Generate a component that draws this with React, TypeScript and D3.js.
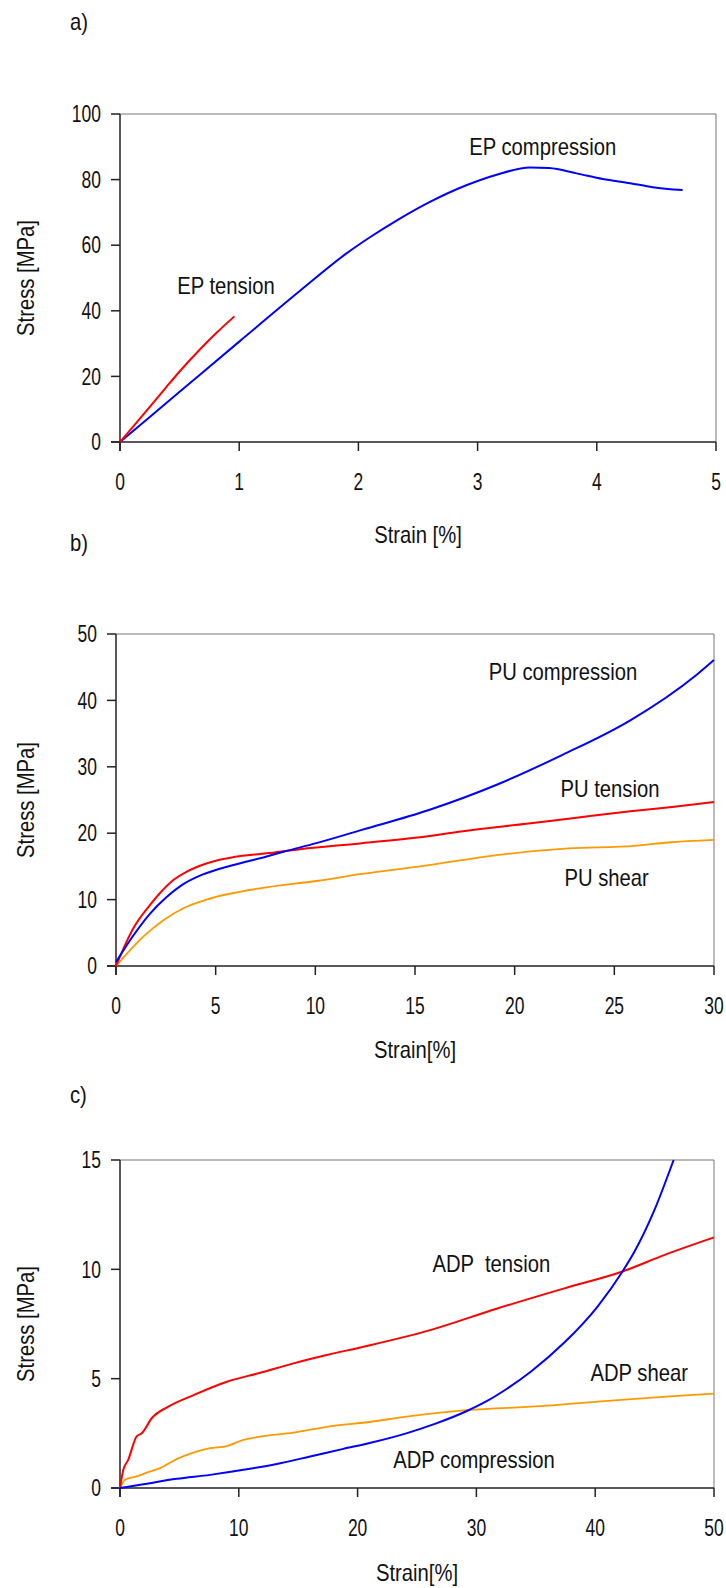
import React from "react";
import * as d3 from "d3";

// ---------- DATA ----------
// Panel a) EP
const epTension: [number, number][] = [
  [0, 0], [0.11, 4.7], [0.25, 10.7], [0.39, 16.8], [0.5, 21.5], [0.67, 28.2],
  [0.81, 33.3], [0.96, 38.3],
];
const epCompression: [number, number][] = [
  [0, 0], [0.5, 15.3], [1, 30.6], [1.5, 45.8], [1.9, 57.5], [2.1, 62.5],
  [2.32, 67.5], [2.6, 73.2], [2.9, 78.2], [3.16, 81.5], [3.44, 83.7],
  [3.6, 83.5], [3.83, 81.9], [4.05, 80.2], [4.28, 78.9], [4.47, 77.7], [4.72, 76.8],
];
// Panel b) PU
const puTension: [number, number][] = [
  [0, 0], [0.87, 5.67], [1.71, 9.2], [2.21, 11.0], [2.88, 12.95], [3.55, 14.2],
  [4.21, 15.1], [5.05, 15.9], [5.89, 16.4], [7.56, 16.97], [9.23, 17.6],
  [12.33, 18.5], [15, 19.3], [17.4, 20.3], [20.8, 21.5], [23, 22.3],
  [25.8, 23.3], [28, 24], [30, 24.7],
];
const puCompression: [number, number][] = [
  [0, 0.6], [0.87, 4.6], [1.71, 7.9], [2.54, 10.4], [3.21, 12.0], [4.21, 13.6],
  [5.05, 14.5], [5.89, 15.2], [7.56, 16.5], [8.4, 17.2], [10.05, 18.5],
  [12.33, 20.5], [15.7, 23.5], [19.1, 27.3], [22.4, 31.8], [25.8, 37.0],
  [29.1, 43.8], [30, 46.1],
];
const puShear: [number, number][] = [
  [0, 0], [1.37, 4.42], [3.38, 8.7], [4.55, 10], [7.56, 11.85], [10.05, 12.8],
  [12.33, 13.86], [15.7, 15.2], [19.1, 16.7], [22.7, 17.7], [26, 18.1],
  [27.7, 18.6], [30, 19],
];
// Panel c) ADP
const adpTension: [number, number][] = [
  [0, 0], [0.28, 0.83], [0.7, 1.3], [1.4, 2.36], [1.83, 2.5], [2.67, 3.19],
  [4.07, 3.72], [6.2, 4.25], [9, 4.86], [11.8, 5.27], [14.6, 5.7], [17.4, 6.08],
  [20.5, 6.46], [26.1, 7.22], [31.7, 8.2], [37.4, 9.13], [42.3, 9.9],
  [45.8, 10.65], [50, 11.46],
];
const adpCompression: [number, number][] = [
  [0, 0], [1.96, 0.17], [4.77, 0.42], [7.58, 0.6], [10.4, 0.83], [13.2, 1.1],
  [16, 1.44], [18.8, 1.79], [21.1, 2.07], [24.1, 2.5], [26.5, 2.93], [29.2, 3.52],
  [30.9, 3.98], [32.6, 4.55], [34.6, 5.33], [37.4, 6.65], [40.2, 8.3],
  [42.3, 9.9], [43.3, 10.8], [44.9, 12.6], [46.6, 15],
];
const adpShear: [number, number][] = [
  [0, 0], [0.14, 0.15], [0.42, 0.38], [1.4, 0.53], [2.5, 0.75], [3.37, 0.91],
  [4.77, 1.32], [6.17, 1.62], [7.58, 1.82], [8.98, 1.92], [10.38, 2.2],
  [11.8, 2.35], [14.6, 2.53], [17.4, 2.8], [21.1, 3.03], [24.1, 3.26],
  [29.2, 3.56], [35.4, 3.74], [41.6, 4.01], [46.6, 4.2], [50, 4.32],
];

const xTicksA = [0, 1, 2, 3, 4, 5];
const yTicksA = [0, 20, 40, 60, 80, 100];
const xTicksB = [0, 5, 10, 15, 20, 25, 30];
const yTicksB = [0, 10, 20, 30, 40, 50];
const xTicksC = [0, 10, 20, 30, 40, 50];
const yTicksC = [0, 5, 10, 15];

const BLUE = "#0000FF";
const RED = "#FF0000";
const ORANGE = "#FF9900";
const FONT = "'Liberation Sans', Arial, sans-serif";
const FS = 23;

type Series = { data: [number, number][]; color: string; width: number };
type Label = { text: string; x: number; y: number };

// condensed text: regular font squeezed horizontally
function T(props: {
  x: number; y: number; sx?: number; anchor?: string; rotate?: number;
  dy?: string; children: React.ReactNode;
}) {
  const { x, y, sx = 0.88, anchor = "start", rotate = 0, dy } = props;
  return (
    <text
      transform={`translate(${x},${y}) rotate(${rotate}) scale(${sx},1)`}
      textAnchor={anchor}
      dy={dy}
      fontSize={FS}
      style={{ whiteSpace: "pre" }}
    >
      {props.children}
    </text>
  );
}

type PanelProps = {
  letter: string;
  letterY: number;
  x0: number; x1: number; y0: number; y1: number;
  xDomain: [number, number]; yDomain: [number, number];
  xTicks: number[]; yTicks: number[];
  xTitle: string; xTitleY: number;
  series: Series[];
  labels: Label[];
};

function Panel(p: PanelProps) {
  const x = d3.scaleLinear().domain(p.xDomain).range([p.x0, p.x1]);
  const y = d3.scaleLinear().domain(p.yDomain).range([p.y1, p.y0]);
  const line = d3
    .line<[number, number]>()
    .x((d) => x(d[0]))
    .y((d) => y(d[1]))
    .curve(d3.curveMonotoneX);
  return (
    <g fontFamily={FONT} fill="#111">
      <T x={70} y={p.letterY}>{p.letter}</T>
      <line x1={p.x0} x2={p.x1} y1={p.y0} y2={p.y0} stroke="#777" strokeWidth={1} />
      <line x1={p.x1} x2={p.x1} y1={p.y0} y2={p.y1} stroke="#777" strokeWidth={1} />
      <line x1={p.x0 - 9} x2={p.x1} y1={p.y1} y2={p.y1} stroke="#222" strokeWidth={1.5} />
      <line x1={p.x0} x2={p.x0} y1={p.y0} y2={p.y1 + 9} stroke="#222" strokeWidth={1.5} />
      {p.yTicks.map((t) => (
        <g key={"y" + t}>
          <line x1={p.x0 - 9} x2={p.x0} y1={y(t)} y2={y(t)} stroke="#222" strokeWidth={1.5} />
          <T x={p.x0 - 19} y={y(t)} dy="0.36em" anchor="end" sx={0.76}>{t}</T>
        </g>
      ))}
      {p.xTicks.map((t) => (
        <g key={"x" + t}>
          <line x1={x(t)} x2={x(t)} y1={p.y1} y2={p.y1 + 9} stroke="#222" strokeWidth={1.5} />
          <T x={x(t)} y={p.y1 + 40} dy="0.36em" anchor="middle" sx={0.76}>{t}</T>
        </g>
      ))}
      <T x={26} y={(p.y0 + p.y1) / 2} rotate={-90} anchor="middle" dy="0.36em">
        Stress [MPa]
      </T>
      <T x={(p.x0 + p.x1) / 2} y={p.xTitleY} anchor="middle" dy="0.36em">
        {p.xTitle}
      </T>
      {p.series.map((s, i) => (
        <path key={i} d={line(s.data) || ""} fill="none" stroke={s.color} strokeWidth={s.width} />
      ))}
      {p.labels.map((l, i) => (
        <T key={i} x={x(l.x)} y={y(l.y)}>{l.text}</T>
      ))}
    </g>
  );
}

export default function App() {
  return (
    <svg
      width={726}
      height={1588}
      style={{ position: "absolute", left: 0, top: 0, background: "#fff" }}
    >
      <rect width={726} height={1588} fill="#fff" />
      <Panel
        letter="a)"
        letterY={30}
        x0={120} x1={716} y0={114} y1={442}
        xDomain={[0, 5]} yDomain={[0, 100]}
        xTicks={xTicksA} yTicks={yTicksA}
        xTitle="Strain [%]" xTitleY={535}
        series={[
          { data: epCompression, color: BLUE, width: 2 },
          { data: epTension, color: RED, width: 2 },
        ]}
        labels={[
          { text: "EP compression", x: 2.93, y: 87.5 },
          { text: "EP tension", x: 0.48, y: 45 },
        ]}
      />
      <Panel
        letter="b)"
        letterY={551}
        x0={116} x1={714} y0={634} y1={966}
        xDomain={[0, 30]} yDomain={[0, 50]}
        xTicks={xTicksB} yTicks={yTicksB}
        xTitle="Strain[%]" xTitleY={1050}
        series={[
          { data: puShear, color: ORANGE, width: 1.8 },
          { data: puTension, color: RED, width: 2 },
          { data: puCompression, color: BLUE, width: 2 },
        ]}
        labels={[
          { text: "PU compression", x: 18.7, y: 43.1 },
          { text: "PU tension", x: 22.3, y: 25.4 },
          { text: "PU shear", x: 22.5, y: 12.1 },
        ]}
      />
      <Panel
        letter="c)"
        letterY={1103}
        x0={120} x1={714} y0={1160} y1={1488}
        xDomain={[0, 50]} yDomain={[0, 15]}
        xTicks={xTicksC} yTicks={yTicksC}
        xTitle="Strain[%]" xTitleY={1573}
        series={[
          { data: adpShear, color: ORANGE, width: 1.8 },
          { data: adpTension, color: RED, width: 2 },
          { data: adpCompression, color: BLUE, width: 2 },
        ]}
        labels={[
          { text: "ADP  tension", x: 26.3, y: 9.9 },
          { text: "ADP shear", x: 39.6, y: 4.9 },
          { text: "ADP compression", x: 23, y: 0.9 },
        ]}
      />
    </svg>
  );
}
